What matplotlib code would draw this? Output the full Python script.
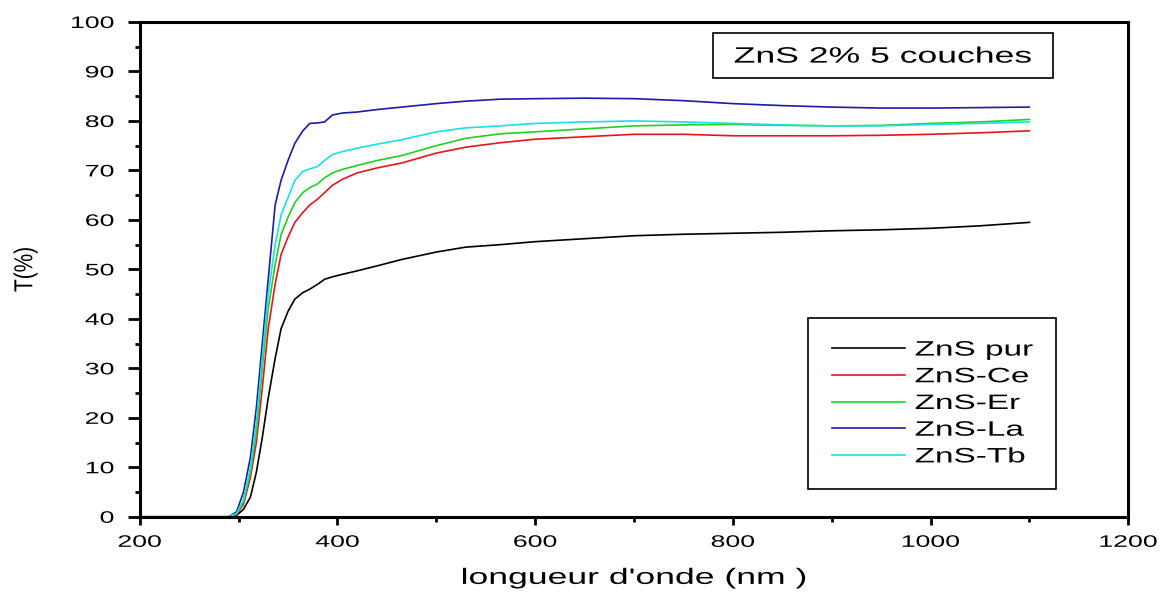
import matplotlib.pyplot as plt
from matplotlib.patches import Rectangle
from matplotlib.patheffects import AbstractPathEffect
from matplotlib.ticker import MultipleLocator
from matplotlib.transforms import Affine2D

plt.rcParams['font.family'] = ['Liberation Sans', 'DejaVu Sans']

# wavelength nodes (nm) shared by all spectra
wavelength = [200, 250, 290, 298, 305, 312, 318, 324, 330, 337, 343, 350, 357, 365,
              372, 380, 387, 395, 405, 420, 440, 465, 500, 530, 565, 600, 650,
              700, 750, 800, 850, 900, 950, 1000, 1050, 1100]

t_pur = [0, 0, 0, 0.3, 1.5, 4, 9, 16, 24, 32, 38, 41.5, 44, 45.3,
         46, 47, 48, 48.5, 49, 49.7, 50.7, 52, 53.5, 54.5, 55, 55.6, 56.2,
         56.8, 57.1, 57.3, 57.5, 57.8, 58.0, 58.3, 58.8, 59.5]
t_ce = [0, 0, 0, 0.5, 2.5, 8, 15, 26, 38, 47, 53, 56.5, 59.5, 61.5,
        63, 64.2, 65.5, 67, 68.2, 69.5, 70.5, 71.5, 73.5, 74.7, 75.6, 76.3, 76.8,
        77.3, 77.3, 77.0, 77.0, 77.0, 77.1, 77.3, 77.6, 78.0]
t_er = [0, 0, 0, 0.6, 3, 9, 17, 30, 42, 51, 57, 60.5, 63.5, 65.5,
        66.5, 67.3, 68.5, 69.5, 70.2, 71, 72, 73, 75, 76.5, 77.4, 77.8, 78.4,
        79.0, 79.2, 79.3, 79.1, 79.0, 79.1, 79.5, 79.8, 80.3]
t_la = [0, 0, 0, 1, 5, 12, 22, 35, 48, 63, 68, 72, 75.5, 78,
        79.5, 79.6, 79.8, 81.2, 81.6, 81.8, 82.3, 82.8, 83.5, 84.0, 84.4, 84.5, 84.6,
        84.5, 84.1, 83.5, 83.1, 82.8, 82.6, 82.6, 82.7, 82.8]
t_tb = [0, 0, 0, 0.7, 3.5, 10, 19, 32, 45, 55, 61, 64.5, 68, 69.8,
        70.3, 70.8, 72, 73.2, 73.8, 74.5, 75.3, 76.2, 77.8, 78.6, 79.0, 79.5, 79.8,
        80.0, 79.8, 79.5, 79.2, 79.0, 79.0, 79.3, 79.5, 79.8]

labels = ['ZnS pur', 'ZnS-Ce', 'ZnS-Er', 'ZnS-La', 'ZnS-Tb']
colors = ['black', '#e8141c', '#22d022', '#1c1ca8', '#18e0e6']


class Stretch(AbstractPathEffect):
    """Draw glyphs widened by sx (along the text) and sy (across it)."""

    def __init__(self, sx=1.0, sy=1.0, anchor='center'):
        super().__init__()
        self.sx, self.sy, self.anchor = sx, sy, anchor

    def draw_path(self, renderer, gc, tpath, affine, rgbFace=None):
        ext = tpath.get_extents()
        cx = {'left': ext.x0, 'center': 0.5 * (ext.x0 + ext.x1), 'right': ext.x1}[self.anchor]
        cy = 0.5 * (ext.y0 + ext.y1)
        pre = Affine2D().translate(-cx, -cy).scale(self.sx, self.sy).translate(cx, cy)
        renderer.draw_path(gc, tpath, pre + affine, rgbFace)


WIDE = 1.6

fig = plt.figure(figsize=(11.74, 5.94), dpi=100)
ax = fig.add_axes([0.119, 0.130, 0.842, 0.833])

for series, name, col in zip([t_pur, t_ce, t_er, t_la, t_tb], labels, colors):
    ax.plot(wavelength, series, color=col, lw=1.2, label=name)

ax.set_xlim(200, 1200)
ax.set_ylim(0, 100)
ax.xaxis.set_major_locator(MultipleLocator(200))
ax.xaxis.set_minor_locator(MultipleLocator(100))
ax.yaxis.set_major_locator(MultipleLocator(10))
ax.yaxis.set_minor_locator(MultipleLocator(5))
ax.tick_params(which='both', direction='out', labelsize=12, width=2)
ax.tick_params(axis='x', which='major', length=6, pad=7)
ax.tick_params(axis='x', which='minor', length=3.5)
ax.tick_params(axis='y', which='major', length=8.5, pad=10)
ax.tick_params(axis='y', which='minor', length=3.5)
for sp in ax.spines.values():
    sp.set_linewidth(2.2)

xl = ax.set_xlabel("longueur d'onde (nm )", fontsize=16, labelpad=13)
yl = ax.set_ylabel('T(%)', fontsize=15)
ax.yaxis.set_label_coords(-0.106, 0.5)

leg = ax.legend(loc='center left', bbox_to_anchor=(0.700, 0.229), fontsize=15,
                frameon=False, handlelength=3.5, handletextpad=0.5,
                labelspacing=0.37, borderpad=0, borderaxespad=0)
ax.add_patch(Rectangle((0.676, 0.057), 0.251, 0.345, transform=ax.transAxes,
                       facecolor='none', edgecolor='black', lw=1.2, zorder=5))

title = ax.text(0.752, 0.929, 'ZnS 2% 5 couches', transform=ax.transAxes,
                ha='center', va='center', fontsize=16, zorder=6)
ax.add_patch(Rectangle((0.580, 0.887), 0.344, 0.091, transform=ax.transAxes,
                       facecolor='white', edgecolor='black', lw=1.2, zorder=5))

fig.canvas.draw()
for lab in ax.get_xticklabels():
    lab.set_path_effects([Stretch(WIDE, anchor='center')])
for lab in ax.get_yticklabels():
    lab.set_path_effects([Stretch(WIDE, anchor='right')])
for txt in leg.get_texts():
    txt.set_path_effects([Stretch(WIDE, anchor='left')])
title.set_path_effects([Stretch(WIDE, anchor='center')])
xl.set_path_effects([Stretch(WIDE, anchor='center')])
yl.set_path_effects([Stretch(1.0, 1.25)])

fig.savefig('out.png', dpi=100)
